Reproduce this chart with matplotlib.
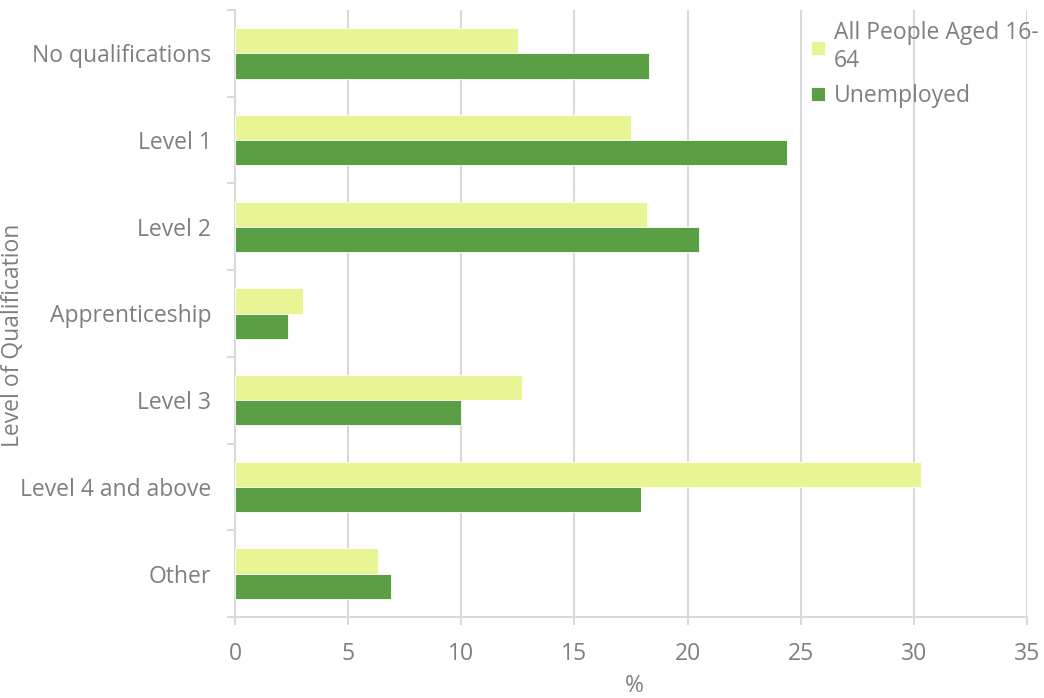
import matplotlib.pyplot as plt
import numpy as np

# datos
categorias = ['No qualifications', 'Level 1', 'Level 2', 'Apprenticeship',
              'Level 3', 'Level 4 and above', 'Other']
todos = [12.5, 17.5, 18.2, 3.0, 12.7, 30.3, 6.3]
desempleados = [18.3, 24.4, 20.5, 2.35, 10.0, 17.95, 6.9]
etiquetas = ['All People Aged 16-\n64', 'Unemployed']

gris = '#7f7f7f'
plt.rcParams['font.family'] = ['Open Sans', 'DejaVu Sans']

fig = plt.figure(figsize=(10.44, 6.98), dpi=100)
ax = fig.add_axes([235 / 1044, 1 - 617 / 698, 792 / 1044, 607 / 698])

y = np.arange(len(categorias))
alto = 0.29
ax.barh(y - alto / 2, todos, height=alto, color='#e9f594', edgecolor='white',
        linewidth=0.6, label=etiquetas[0], zorder=3)
ax.barh(y + alto / 2, desempleados, height=alto, color='#5b9f45', edgecolor='white',
        linewidth=0.6, label=etiquetas[1], zorder=3)

ax.set_xlim(0, 35)
ax.set_ylim(len(categorias) - 0.5, -0.5)
ax.set_xticks(range(0, 36, 5))
ax.set_yticks(y)
ax.set_yticklabels(categorias)
ax.set_yticks(np.arange(-0.5, len(categorias)), minor=True)

ax.grid(axis='x', color='#d9d9d9', linewidth=1.5, zorder=0)
for lado in ['top', 'right']:
    ax.spines[lado].set_visible(False)
for lado in ['left', 'bottom']:
    ax.spines[lado].set_color('#d9d9d9')
    ax.spines[lado].set_linewidth(1.5)

ax.tick_params(axis='y', which='major', length=0, pad=17, labelsize=16.5, labelcolor=gris)
ax.tick_params(axis='y', which='minor', length=6, width=1.5, color='#d9d9d9')
ax.tick_params(axis='x', length=6, width=1.5, color='#d9d9d9', pad=12,
               labelsize=16.5, labelcolor=gris)

ax.set_xlabel('%', fontsize=16.5, color=gris)
ax.xaxis.set_label_coords(634 / 1044, 1 - 686 / 698, transform=fig.transFigure)
ax.xaxis.label.set_va('center')
ax.set_ylabel('Level of Qualification', fontsize=16.5, color=gris)
ax.yaxis.set_label_coords(13 / 1044, 1 - 335 / 698, transform=fig.transFigure)
ax.yaxis.label.set_va('center')

ax.legend(loc='upper left', bbox_to_anchor=(802 / 1044, 1 - 12 / 698),
          bbox_transform=fig.transFigure, frameon=False, fontsize=16.5,
          labelcolor=gris, handlelength=0.6, handleheight=0.6,
          handletextpad=0.4, labelspacing=0.5, borderaxespad=0)

fig.savefig('out.png', dpi=100)
